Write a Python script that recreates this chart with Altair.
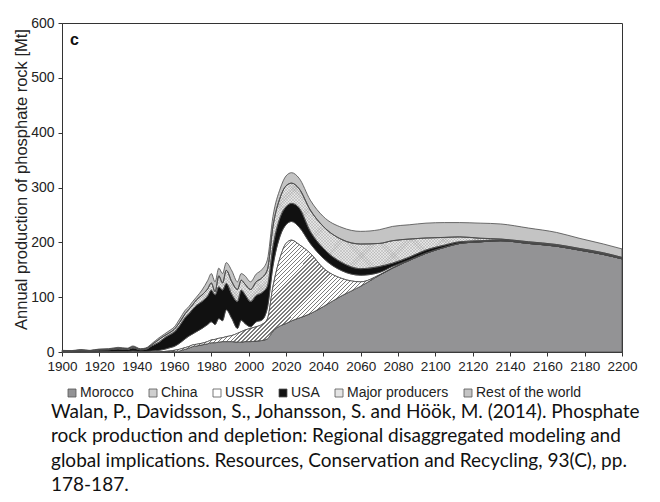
import altair as alt
import pandas as pd

years = [1900, 1905, 1910, 1915, 1920, 1925, 1930, 1935, 1938, 1942, 1945, 1948,
         1952, 1955, 1958, 1960, 1963, 1966, 1968, 1970, 1972, 1975, 1978, 1980,
         1982, 1984, 1986, 1988, 1991, 1994, 1996, 1998, 2001, 2004, 2007, 2010,
         2013, 2017, 2020, 2023, 2027, 2033, 2040, 2050, 2060, 2070, 2077, 2086,
         2095, 2105, 2113, 2124, 2135, 2150, 2165, 2177, 2190, 2200]

morocco = [0, 0, 0, 0, 0, 0, 0, 0, 0, 0, 0, 0,
           0, 0.5, 1, 1, 2, 5, 7, 10, 11, 13, 15, 17,
           17, 18, 19, 19, 19, 18, 18, 19, 19, 20, 21, 24,
           38, 48, 52, 57, 62, 70, 83, 103, 120, 140, 153, 167,
           180, 191, 198, 201, 203, 198, 193, 186, 178, 170]
china = [0, 0, 0, 0, 0, 0, 0, 0, 0, 0, 0, 0,
         0.5, 0.5, 1, 2, 3, 3, 3, 3, 3, 3, 4, 5,
         6, 7, 7, 9, 11, 16, 19, 21, 24, 26, 29, 36,
         81, 126, 146, 147, 134, 110, 70, 31, 8, 0.5, 0, 0,
         0, 0, 0, 0, 0, 0, 0, 0, 0, 0]
ussr = [0.3, 0.3, 0.5, 0.3, 0.5, 0.5, 1, 1, 2, 1, 1, 2,
        2.5, 4, 6, 7, 11, 16, 19, 20, 23, 27, 31, 33,
        27, 36, 31, 49, 31, 9, 21, 12, 3, 9, 8, 20,
        37, 39, 34, 34, 32, 18, 18, 14, 12, 4.5, 3, 1,
        0.5, 0, 0, 0, 0, 0, 0, 0, 0, 0]
usa = [1.7, 1.2, 2.5, 1.7, 3, 3.5, 4.5, 3.5, 5.5, 3, 4, 9,
       15, 21, 24, 26, 32, 39, 41, 45, 48, 49, 52, 58,
       54, 58, 56, 48, 44, 49, 55, 53, 46, 48, 50, 40,
       36, 34, 33, 33, 35, 22, 18, 15, 12, 11, 6, 5,
       5.5, 4, 3, 2, 1.5, 1.5, 1.5, 1.5, 1.5, 1.5]
major = [0.5, 0.5, 0.5, 0.5, 1, 1, 1.5, 1.5, 2, 1, 1.5, 2,
         5, 4, 4, 5, 6, 7, 8, 8, 10, 12, 13, 13,
         6, 20, 13, 24, 23, 22, 18, 19, 22, 25, 27, 30,
         37, 36, 38, 37, 35, 39, 40, 42, 45, 42, 41, 33,
         22, 14, 9, 4.5, 1.5, 1.5, 1.5, 1.5, 1.5, 1]
rest = [0.5, 0.5, 1, 0.5, 1, 1, 1.5, 1, 1.5, 1, 1, 2,
        3, 3, 4, 4, 6, 6, 5, 6, 5, 9, 15, 17,
        18, 14, 17, 14, 20, 14, 12, 15, 14, 14, 15, 18,
        18, 16, 18, 19, 19, 18, 18, 22, 23, 25, 26, 26,
        27, 27, 26, 27.5, 27.5, 25, 22, 18.5, 16, 15.5]

series_names = ["Morocco", "China", "USSR", "USA", "Major producers", "Rest of the world"]
series_values = [morocco, china, ussr, usa, major, rest]
fills = ["#939395", "#cfcfcf", "#ffffff", "#111111", "#e4e4e4", "#c4c4c4"]

x_tick_values = [1900, 1920, 1940, 1960, 1980, 2000, 2020, 2040, 2060, 2080,
                 2100, 2120, 2140, 2160, 2180, 2200]
y_tick_values = [0, 100, 200, 300, 400, 500, 600]

citation = [
    "Walan, P., Davidsson, S., Johansson, S. and Höök, M. (2014). Phosphate",
    "rock production and depletion: Regional disaggregated modeling and",
    "global implications. Resources, Conservation and Recycling, 93(C), pp.",
    "178-187.",
]

rows = []
for k, (name, vals) in enumerate(zip(series_names, series_values)):
    for yr, v in zip(years, vals):
        rows.append({"year": yr, "series": name, "order": k, "value": v})
df = pd.DataFrame(rows)

base = alt.Chart(df).transform_stack(
    stack="value", groupby=["year"], as_=["y0", "y1"],
    sort=[alt.SortField("order", order="ascending")],
)

x_enc = alt.X(
    "year:Q",
    scale=alt.Scale(domain=[1900, 2200], nice=False, zero=False),
    axis=alt.Axis(values=x_tick_values, format="d", title=None,
                  labelFontSize=13.5, labelPadding=3, tickSize=4,
                  labelOverlap=False, labelFlush=False, labelBound=False,
                  labelSeparation=0),
)
y_enc = alt.Y(
    "y1:Q",
    scale=alt.Scale(domain=[0, 600], nice=False),
    axis=alt.Axis(values=y_tick_values,
                  title="Annual production of phosphate rock [Mt]",
                  labelFontSize=14, labelPadding=4, tickSize=4,
                  titleFontSize=16.5, titleFontWeight="normal",
                  titleBaseline="middle", titleAlign="center",
                  titleX=-41, titleY=156),
)

areas = base.mark_area(interpolate="monotone", stroke="#4a4a4a", strokeWidth=0.8).encode(
    x=x_enc,
    y=y_enc,
    y2="y0:Q",
    color=alt.Color(
        "series:N",
        scale=alt.Scale(domain=series_names, range=fills),
        sort=series_names,
        legend=alt.Legend(
            title=None, orient="none", legendX=3, legendY=363,
            direction="horizontal", symbolType="square", symbolSize=64,
            symbolStrokeColor="#555555", symbolStrokeWidth=0.8,
            labelFontSize=14, labelFont="Liberation Sans", labelColor="#222222",
            columnPadding=12, labelOffset=1, padding=0,
        ),
    ),
)


def stripes(n, frac, ink, paper):
    out = []
    for i in range(n):
        t0 = i / n
        t1 = (i + frac) / n
        t2 = (i + 1) / n
        out += [
            alt.GradientStop(offset=t0, color=ink),
            alt.GradientStop(offset=t1, color=ink),
            alt.GradientStop(offset=t1, color=paper),
            alt.GradientStop(offset=min(t2, 1.0), color=paper),
        ]
    return out


# diagonal hatch for China
hatch = alt.LinearGradient(gradient="linear", stops=stripes(170, 0.36, "#7c7c7c", "#ffffff"),
                           x1=0, y1=0, x2=1.154, y2=0.2303)

china_layer = base.transform_filter(alt.datum.series == "China").mark_area(
    interpolate="monotone", fill=hatch, stroke="#4a4a4a", strokeWidth=0.8
).encode(x=x_enc, y=y_enc, y2="y0:Q")

# fine dotted texture for Major producers (two crossing fine stripe sets)
ink = "rgba(110,110,110,0.22)"
clear = "rgba(255,255,255,0)"
dot_a = alt.LinearGradient(gradient="linear", stops=stripes(250, 0.4, ink, clear),
                           x1=0, y1=0, x2=1.1926, y2=0.3578)
dot_b = alt.LinearGradient(gradient="linear", stops=stripes(250, 0.4, ink, clear),
                           x1=0, y1=1, x2=1.1926, y2=0.6422)
major_base = base.transform_filter(alt.datum.series == "Major producers")
major_a = major_base.mark_area(interpolate="monotone", fill=dot_a, strokeWidth=0).encode(
    x=x_enc, y=y_enc, y2="y0:Q")
major_b = major_base.mark_area(interpolate="monotone", fill=dot_b, stroke="#4a4a4a",
                               strokeWidth=0.8).encode(x=x_enc, y=y_enc, y2="y0:Q")

# panel letter (annotation placed in pixels inside the plot frame)
label_c = alt.Chart(pd.DataFrame({"t": ["c"]})).mark_text(
    align="left", baseline="alphabetic", fontSize=16, fontWeight="bold",
    font="Liberation Sans", color="#111111",
).encode(x=alt.value(8), y=alt.value(22), text="t:N")

chart = alt.layer(areas, china_layer, major_a, major_b, label_c).properties(
    width=560, height=329,
    autosize=alt.AutoSizeParams(type="none"),
    padding={"left": 62, "top": 23, "right": 38, "bottom": 150},
    title=alt.TitleParams(
        text=citation, orient="bottom", anchor="start", frame="group",
        font="Lato", fontSize=19, fontWeight="normal", color="#111111",
        lineHeight=24.3, offset=3, dx=-11,
    ),
).configure_view(stroke="#333333", strokeWidth=1).configure_axis(
    labelFont="Liberation Sans", titleFont="Liberation Sans",
    labelColor="#222222", titleColor="#222222",
    domainColor="#333333", tickColor="#333333", grid=False,
)

chart.save("out.html", embed_options={"renderer": "svg", "actions": False})
